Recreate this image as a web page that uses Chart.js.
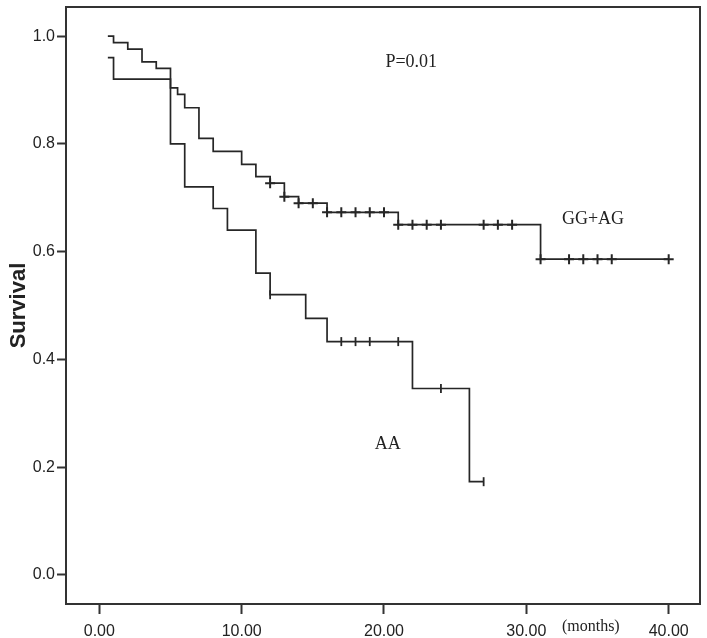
<!DOCTYPE html>
<html>
<head>
<meta charset="utf-8">
<script src="https://cdn.jsdelivr.net/npm/chart.js@4.4.1/dist/chart.umd.min.js"></script>
<style>
  body { margin: 0; background: #fff; }
  #wrap { width: 707px; height: 638px; }
</style>
</head>
<body>
<div id="wrap"><canvas id="kmChart" width="707" height="638"></canvas></div>
<script>
// Kaplan-Meier steps: time (months) and survival after each step
const ggTime = [0.6, 1, 2, 3, 4, 5, 5.5, 6, 7, 8, 10, 11, 12, 13, 14, 16, 21, 31, 40];
const ggSurv = [1.0, 0.988, 0.976, 0.952, 0.940, 0.904, 0.892, 0.867, 0.810, 0.786, 0.762, 0.739, 0.727, 0.702, 0.690, 0.673, 0.650, 0.586, 0.586];
const ggCensor = [12, 13, 14, 15, 16, 17, 18, 19, 20, 21, 22, 23, 24, 27, 28, 29, 31, 33, 34, 35, 36, 40];

const aaTime = [0.6, 1, 5, 6, 8, 9, 11, 12, 14.5, 16, 22, 26, 27];
const aaSurv = [0.96, 0.92, 0.80, 0.72, 0.68, 0.64, 0.56, 0.52, 0.476, 0.433, 0.346, 0.173, 0.173];
const aaCensor = [12, 17, 18, 19, 21, 24, 27];

const xTicks = [0, 10, 20, 30, 40];
const yTicks = [0, 0.2, 0.4, 0.6, 0.8, 1.0];

function survAt(times, surv, t) {
    let s = surv[0];
    for (let i = 0; i < times.length; i++) {
        if (times[i] <= t) s = surv[i];
    }
    return s;
}

function steps(times, surv) {
    return times.map((t, i) => ({ x: t, y: surv[i] }));
}

function censorPts(list, times, surv) {
    return list.map(t => ({ x: t, y: survAt(times, surv, t) }));
}

const lineCol = '#262626';
const txtCol = '#222';

const notes = {
    id: 'notes',
    afterDraw(chart) {
        const ctx = chart.ctx;
        const ca = chart.chartArea;
        const xs = chart.scales.x, ys = chart.scales.y;
        ctx.save();
        ctx.strokeStyle = '#333';
        ctx.lineWidth = 2;
        ctx.strokeRect(ca.left, ca.top, ca.right - ca.left, ca.bottom - ca.top);

        ctx.fillStyle = txtCol;
        ctx.textBaseline = 'alphabetic';
        ctx.textAlign = 'left';
        ctx.font = '18px "Liberation Serif", "Times New Roman", serif';
        ctx.fillText('P=0.01', xs.getPixelForValue(20.1), ys.getPixelForValue(0.943));
        ctx.fillText('GG+AG', xs.getPixelForValue(32.5), ys.getPixelForValue(0.652));
        ctx.fillText('AA', xs.getPixelForValue(19.35), ys.getPixelForValue(0.234));
        ctx.font = '16px "Liberation Serif", "Times New Roman", serif';
        ctx.fillText('(months)', xs.getPixelForValue(32.5), ca.bottom + 27);
        ctx.restore();
    }
};

const ctx = document.getElementById('kmChart').getContext('2d');
const kmChart = new Chart(ctx, {
    type: 'scatter',
    data: {
        datasets: [
            {
                label: 'GG+AG',
                data: steps(ggTime, ggSurv),
                showLine: true,
                stepped: true,
                borderColor: lineCol,
                borderWidth: 1.7,
                pointRadius: 0
            },
            {
                label: 'AA',
                data: steps(aaTime, aaSurv),
                showLine: true,
                stepped: true,
                borderColor: lineCol,
                borderWidth: 1.7,
                pointRadius: 0
            },
            {
                label: 'GG+AG censored',
                data: censorPts(ggCensor, ggTime, ggSurv),
                pointStyle: 'cross',
                pointRadius: 5,
                borderColor: lineCol,
                borderWidth: 2
            },
            {
                label: 'AA censored',
                data: censorPts(aaCensor, aaTime, aaSurv),
                pointStyle: 'line',
                rotation: 90,
                pointRadius: 4.5,
                borderColor: lineCol,
                borderWidth: 1.8
            }
        ]
    },
    options: {
        responsive: false,
        animation: false,
        layout: { padding: { top: 5, right: 6, left: 0, bottom: 0 } },
        plugins: {
            legend: { display: false },
            tooltip: { enabled: false }
        },
        scales: {
            x: {
                type: 'linear',
                min: -2.34,
                max: 42.2,
                afterBuildTicks: s => { s.ticks = xTicks.map(v => ({ value: v })); },
                afterFit: s => { s.height = 34; s.paddingLeft = 0; s.paddingRight = 0; },
                ticks: {
                    autoSkip: false,
                    maxRotation: 0,
                    padding: 8,
                    color: txtCol,
                    font: { family: '"Liberation Sans", Arial, sans-serif', size: 16 },
                    callback: v => Number(v).toFixed(2)
                },
                grid: { drawOnChartArea: false, tickLength: 10, tickColor: '#333', tickWidth: 2 },
                border: { display: false }
            },
            y: {
                min: -0.054,
                max: 1.054,
                afterBuildTicks: s => { s.ticks = yTicks.map(v => ({ value: v })); },
                afterFit: s => { s.width = 66; s.paddingTop = 0; s.paddingBottom = 0; },
                ticks: {
                    padding: 2,
                    color: txtCol,
                    font: { family: '"Liberation Sans", Arial, sans-serif', size: 16 },
                    callback: v => Number(v).toFixed(1)
                },
                grid: { drawOnChartArea: false, tickLength: 9, tickColor: '#333', tickWidth: 2 },
                border: { display: false },
                title: {
                    display: true,
                    text: 'Survival',
                    color: txtCol,
                    font: { family: '"Liberation Sans", Arial, sans-serif', size: 22, weight: 'bold' },
                    padding: { top: 6, bottom: 0 }
                }
            }
        }
    },
    plugins: [notes]
});
</script>
</body>
</html>
